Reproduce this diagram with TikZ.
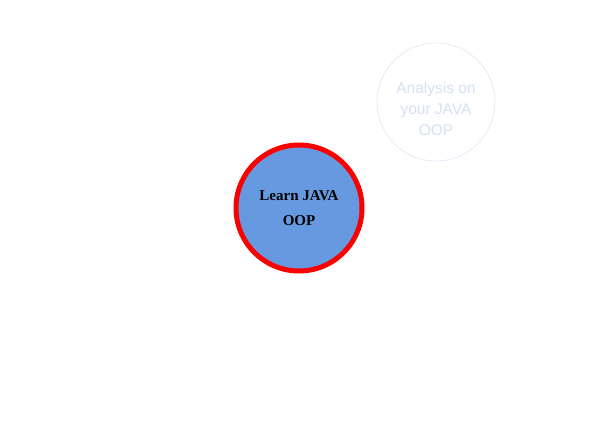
\documentclass[tikz,border=0pt]{standalone}
\usepackage{fontspec}
\setmainfont{Liberation Serif}
\newfontfamily\sansfont{Liberation Sans}
\usepackage{tikz}
\usepackage{xcolor}
\definecolor{cfond}{RGB}{102,153,224}
\definecolor{crouge}{RGB}{250,0,0}
\definecolor{cpale}{RGB}{226,234,246}
\definecolor{cpaletxt}{RGB}{212,224,243}

\begin{document}
\begin{tikzpicture}[x=1pt, y=1pt]
\useasboundingbox (0,0) rectangle (600,424);
\node[circle, fill=cfond, draw=crouge, line width=5pt, minimum size=126pt, inner sep=0pt,
  align=center, font=\fontsize{15}{25}\selectfont\bfseries] (learn) at (299,216) {Learn JAVA\\OOP};
\node[circle, draw=cpale, line width=0.8pt, minimum size=118pt, inner sep=0pt] (analyse) at (436,322) {};
\node[align=center, text=cpaletxt, font=\sansfont\fontsize{15.5}{21}\selectfont]
  (analysetxt) at ([yshift=-7pt]analyse.center) {Analysis on\\your JAVA\\OOP};
\end{tikzpicture}
\end{document}
